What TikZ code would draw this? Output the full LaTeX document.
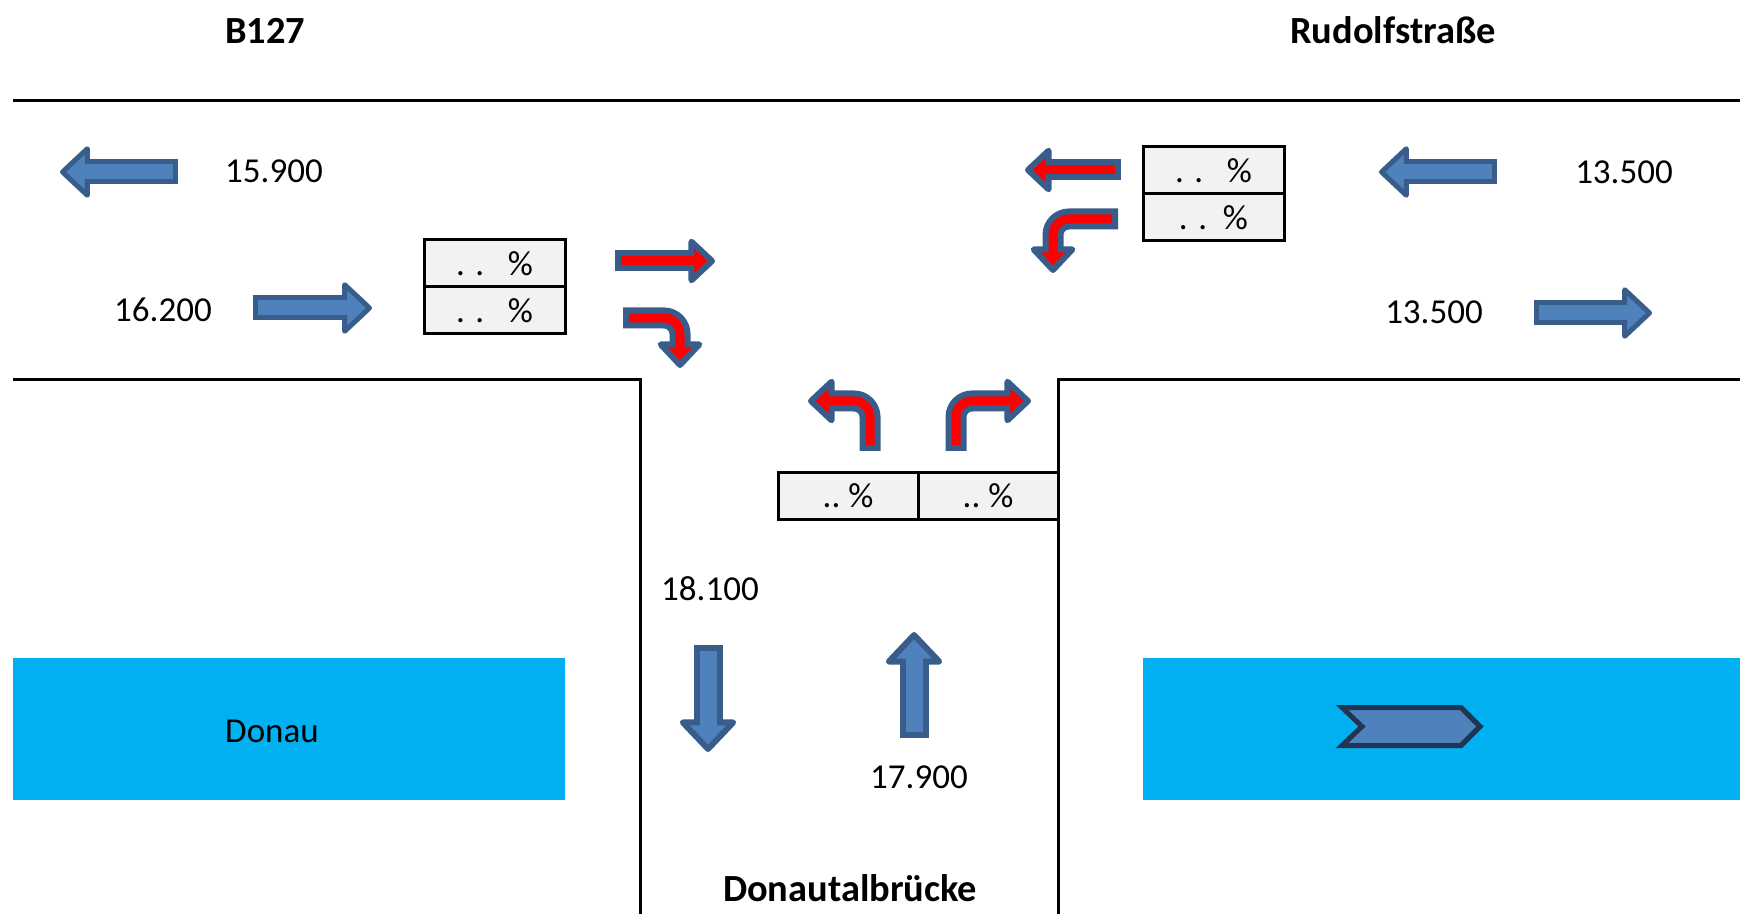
\documentclass[tikz,border=0pt]{standalone}
\usepackage{fontspec}
\setmainfont{Carlito}
\usetikzlibrary{arrows.meta,positioning}
\definecolor{flowfill}{HTML}{4F81BD}
\definecolor{flowedge}{HTML}{385D8A}
\definecolor{turnfill}{HTML}{FF0000}
\definecolor{river}{HTML}{00B0F0}
\definecolor{boxgray}{HTML}{F2F2F2}
\definecolor{chevronedge}{HTML}{1F3552}

\begin{document}
\begin{tikzpicture}
[
x=0.5pt, y=-0.5pt,
text0/.style={font=\fontsize{17.5}{21}\selectfont, inner sep=0pt},
text1/.style={font=\fontsize{19.2}{23}\selectfont\bfseries, inner sep=0pt},
box0/.style={rectangle, draw, line width=1.5pt, fill=boxgray, minimum width=70.5pt, minimum height=23.5pt, outer sep=0pt, text0},
road/.style={line width=1.5pt},
water/.style={fill=river, draw=none},
flow0/.style={draw=flowfill, line width=7.5pt, shorten <=2.5pt, shorten >=10pt,
  preaction={draw=flowedge, line width=12.5pt, shorten <=0pt, shorten >=0pt,
    -{Triangle[length=15.5pt, width=28.5pt, line width=2.5pt, round, fill=flowfill]}}},
flow1/.style={draw=flowfill, line width=8.5pt, shorten <=3pt, shorten >=11pt,
  preaction={draw=flowedge, line width=14.5pt, shorten <=0pt, shorten >=0pt,
    -{Triangle[length=17pt, width=31.5pt, line width=3pt, round, fill=flowfill]}}},
turn0/.style={draw=turnfill, line width=4.5pt, shorten <=3pt, shorten >=9pt, rounded corners=8pt,
  preaction={draw=flowedge, line width=10.5pt, shorten <=0pt, shorten >=0pt,
    -{Triangle[length=14pt, width=25.5pt, line width=3pt, round, fill=turnfill]}}}
]
\useasboundingbox (0,0) rectangle (1740,914);

% roads
\draw[road] (13,101) -- (1740,101);
\draw[road] (13,380) -- (640,380) -- (640,914);
\draw[road] (1740,380) -- (1058,380) -- (1058,914);

% river
\fill[water] (13,658) rectangle (565,800);
\fill[water] (1143,658) rectangle (1740,800);
\node[text0] (D) at (272,731) {Donau};
\draw[chevronedge, line width=2.5pt, fill=flowfill] (1342,707.5) -- (1461,707.5) -- (1480,726.5) -- (1461,745.5) -- (1342,745.5) -- (1362,726.5) -- cycle;

% street names
\node[text1] (B) at (265,31) {B127};
\node[text1] (R) at (1393,30) {Rudolfstraße};
\node[text1] (T) at (850,888) {Donautalbrücke};

% traffic counts
\node[text0] (W1) at (274,171) {15.900};
\node[text0] (W2) at (163,310) {16.200};
\node[text0] (E1) at (1624,172) {13.500};
\node[text0] (E2) at (1434,312) {13.500};
\node[text0] (S1) at (710,589) {18.100};
\node[text0] (S2) at (919,777) {17.900};

% shares
\node[box0] (WA) at (494.5,263.5) {. .\ \ \ \%};
\node[box0, below=0pt of WA] (WB) {. .\ \ \ \%};
\node[box0] (EA) at (1213.5,170.5) {. .\ \ \ \%};
\node[box0, below=0pt of EA] (EB) {. .\ \ \%};
\node[box0, minimum width=70pt, minimum height=23pt] (SA) at (848,496) {..\ \%};
\node[box0, minimum width=70pt, minimum height=23pt, right=0pt of SA] (SB) {..\ \%};

% main flows
\draw[flow0] (178,172) -- (60,172);
\draw[flow0] (253,308) -- (372,308);
\draw[flow0] (1497,172) -- (1379,172);
\draw[flow0] (1534,313) -- (1652,313);
\draw[flow1] (708,645) -- (708,752);
\draw[flow1] (914,738) -- (914,632);

% turning flows
\draw[turn0] (615,261) -- (715,261);
\draw[turn0] (623,318) -| (680,368);
\draw[turn0] (1121,170) -- (1025,170);
\draw[turn0] (1118,219) -| (1053,273);
\draw[turn0] (870,451) |- (808,401);
\draw[turn0] (956,451) |- (1031,401);
\end{tikzpicture}
\end{document}
